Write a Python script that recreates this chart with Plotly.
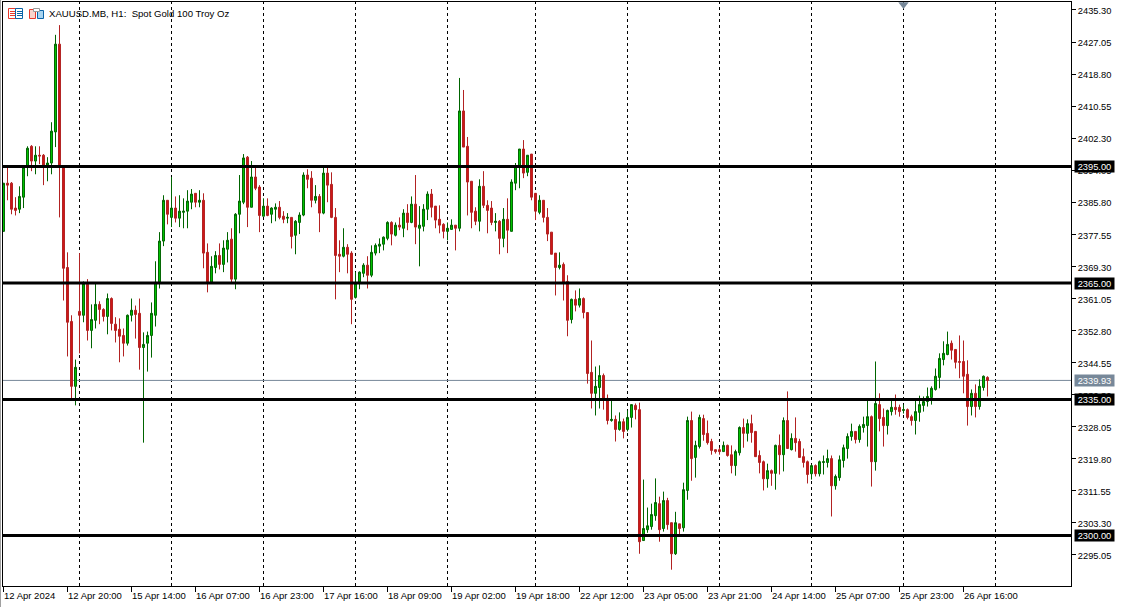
import plotly.graph_objects as go

highs = [
2390.7,2394.8,2391.0,2387.1,2389.9,2395.1,2400.2,2400.5,2400.2,2400.2,
2398.2,2397.4,2406.4,2428.9,2431.4,2395.1,2372.9,2356.7,2345.3,2372.7,
2365.4,2366.0,2359.5,2364.9,2360.3,2358.5,2362.3,2361.3,2356.2,2355.9,
2353.3,2356.9,2361.0,2359.2,2361.0,2352.3,2352.5,2360.0,2370.6,2378.1,
2387.6,2386.3,2392.3,2387.3,2387.6,2386.8,2388.9,2389.2,2388.1,2388.9,
2388.1,2375.2,2371.9,2373.2,2375.2,2376.0,2378.1,2379.1,2383.0,2392.8,
2398.2,2397.7,2396.4,2394.8,2390.2,2386.8,2386.8,2384.5,2385.5,2386.1,
2383.5,2383.0,2381.9,2381.2,2383.2,2393.5,2394.3,2393.8,2390.2,2387.9,
2394.8,2394.8,2393.5,2384.3,2376.0,2379.1,2375.0,2373.2,2367.8,2368.0,
2370.1,2371.9,2374.7,2375.2,2376.5,2377.0,2380.9,2380.9,2380.6,2381.9,
2384.0,2385.3,2387.3,2392.8,2384.8,2385.3,2388.6,2389.2,2384.8,2385.0,
2380.4,2380.6,2381.4,2379.9,2417.8,2414.7,2402.6,2391.2,2384.5,2391.7,
2393.8,2386.3,2386.1,2383.0,2381.2,2384.3,2386.8,2391.7,2395.9,2399.5,
2401.8,2397.9,2398.2,2388.1,2387.6,2386.3,2384.3,2378.1,2372.7,2372.9,
2370.3,2367.0,2361.0,2363.1,2363.6,2361.3,2357.4,2350.2,2343.5,2343.8,
2341.7,2336.3,2334.8,2330.9,2331.7,2330.1,2332.2,2333.7,2334.0,2334.2,
2314.4,2307.2,2308.2,2314.7,2310.0,2311.3,2309.7,2303.3,2306.1,2303.0,
2313.6,2330.6,2331.9,2324.4,2331.1,2331.1,2329.6,2324.9,2322.1,2322.6,
2324.2,2323.4,2323.2,2322.1,2328.1,2330.1,2329.9,2331.1,2326.8,2321.9,
2319.3,2318.5,2317.0,2323.4,2326.0,2330.4,2337.1,2326.3,2330.4,2324.9,
2322.4,2319.3,2318.3,2318.3,2319.3,2320.6,2322.1,2320.6,2315.7,2320.6,
2323.4,2326.3,2328.8,2326.8,2328.6,2330.6,2334.8,2330.9,2344.8,2336.6,
2332.7,2332.4,2334.8,2336.3,2333.7,2333.7,2332.7,2331.1,2334.8,2336.0,
2335.8,2338.1,2338.4,2343.0,2346.9,2350.0,2352.5,2350.2,2347.9,2351.5,
2350.2,2345.1,2337.6,2338.9,2340.2,2341.2,2341.0]

body_tops = [
2390.7,2390.7,2390.7,2384.3,2387.3,2394.8,2399.7,2400.2,2397.9,2397.9,
2397.9,2395.9,2404.1,2426.5,2426.5,2394.8,2369.0,2355.1,2343.3,2357.7,
2364.9,2364.7,2355.6,2359.5,2359.5,2358.2,2361.0,2361.0,2354.4,2353.1,
2351.5,2356.7,2358.0,2358.0,2357.2,2349.2,2351.5,2357.2,2365.2,2375.8,
2386.3,2386.3,2384.3,2384.3,2383.5,2383.5,2386.1,2387.9,2388.1,2386.3,
2386.3,2372.9,2369.3,2372.1,2372.1,2374.0,2376.0,2376.3,2382.7,2386.1,
2397.2,2397.4,2392.3,2392.3,2389.7,2384.8,2384.8,2384.3,2384.5,2384.5,
2382.2,2381.9,2381.9,2380.9,2382.5,2392.8,2392.8,2392.0,2387.3,2387.3,
2393.3,2393.3,2390.4,2381.9,2372.4,2374.2,2374.2,2372.7,2364.9,2367.8,
2369.6,2369.6,2372.9,2374.7,2375.0,2376.8,2380.6,2380.6,2379.9,2379.9,
2383.0,2383.0,2385.3,2385.3,2379.9,2384.0,2387.9,2387.9,2384.8,2381.4,
2380.1,2379.1,2379.9,2379.9,2409.3,2409.3,2400.2,2391.2,2383.5,2389.9,
2389.9,2385.0,2384.3,2380.9,2380.9,2381.4,2381.4,2391.0,2395.1,2399.5,
2399.5,2397.9,2398.2,2388.1,2386.3,2386.3,2381.9,2378.1,2372.7,2369.6,
2369.8,2365.4,2360.8,2360.8,2361.0,2361.0,2357.4,2342.0,2338.4,2341.2,
2341.2,2335.3,2329.9,2329.9,2329.3,2329.3,2330.4,2333.7,2333.5,2332.4,
2301.8,2302.5,2305.4,2308.5,2308.2,2309.0,2309.0,2303.3,2303.3,2303.0,
2311.8,2329.6,2329.6,2323.2,2330.4,2330.1,2326.3,2324.2,2322.1,2322.1,
2323.2,2323.2,2320.8,2321.6,2327.8,2327.8,2328.8,2328.8,2326.8,2320.6,
2319.0,2316.7,2316.7,2323.2,2323.2,2329.6,2329.6,2325.0,2325.0,2324.2,
2320.3,2319.0,2318.0,2318.0,2319.0,2319.0,2319.8,2319.8,2315.2,2319.5,
2322.6,2325.5,2326.8,2326.8,2328.1,2328.6,2330.6,2330.6,2334.0,2333.7,
2330.4,2332.2,2333.0,2333.0,2333.0,2332.4,2332.4,2330.6,2331.9,2333.7,
2334.5,2335.8,2337.9,2341.0,2345.6,2346.9,2349.2,2349.5,2347.9,2344.8,
2344.8,2341.5,2336.6,2336.6,2338.4,2341.0,2340.7]

body_bottoms = [
2378.3,2390.2,2384.0,2383.7,2384.0,2387.1,2395.1,2396.4,2396.4,2397.7,
2395.3,2395.3,2395.9,2403.9,2394.8,2368.8,2354.9,2338.4,2338.4,2356.7,
2356.7,2352.8,2352.8,2355.4,2358.2,2356.4,2356.4,2354.6,2352.8,2351.3,
2349.5,2349.5,2356.7,2356.9,2348.4,2348.4,2349.5,2351.5,2356.7,2365.2,
2375.8,2382.7,2381.9,2381.7,2381.7,2383.2,2383.5,2385.8,2385.8,2385.8,
2372.7,2365.2,2365.2,2369.0,2369.8,2369.8,2373.7,2366.0,2366.0,2382.7,
2385.8,2384.5,2384.5,2389.4,2382.4,2382.2,2382.4,2382.7,2384.0,2381.9,
2381.4,2381.7,2377.0,2377.3,2380.6,2382.5,2391.7,2386.3,2386.3,2383.0,
2383.0,2390.2,2381.9,2372.1,2371.9,2371.9,2372.4,2360.8,2361.3,2365.2,
2367.5,2367.0,2367.0,2372.7,2374.5,2375.0,2376.5,2377.6,2377.3,2379.4,
2379.1,2380.6,2380.6,2379.4,2379.1,2379.6,2384.0,2384.5,2381.2,2379.9,
2378.3,2378.3,2378.8,2379.1,2379.1,2400.0,2391.0,2383.2,2380.9,2380.9,
2385.0,2383.7,2380.6,2380.6,2376.5,2376.5,2378.6,2378.3,2390.7,2395.1,
2393.3,2393.5,2387.1,2383.5,2383.2,2381.9,2377.6,2372.4,2369.0,2369.0,
2364.9,2355.4,2355.6,2359.3,2359.3,2357.4,2341.7,2336.6,2336.6,2338.1,
2335.3,2329.6,2329.6,2327.3,2327.3,2326.8,2327.3,2330.4,2332.4,2298.4,
2298.7,2301.5,2302.3,2305.1,2301.5,2301.8,2302.8,2295.3,2295.3,2301.8,
2302.0,2311.6,2319.8,2320.1,2322.9,2326.0,2323.9,2321.9,2321.6,2321.6,
2321.6,2320.6,2318.0,2318.0,2321.3,2326.3,2326.3,2326.5,2320.3,2318.8,
2314.6,2314.6,2316.0,2316.0,2320.8,2320.8,2322.4,2322.1,2323.9,2320.1,
2318.8,2315.7,2315.9,2315.9,2315.9,2318.8,2318.8,2312.8,2312.8,2314.9,
2319.3,2322.4,2325.5,2324.7,2324.7,2327.8,2328.3,2319.0,2319.0,2330.1,
2328.3,2328.3,2331.9,2332.4,2331.9,2332.2,2330.4,2329.6,2329.6,2331.7,
2333.5,2334.5,2335.5,2337.6,2340.7,2345.3,2346.6,2347.7,2344.6,2344.6,
2341.0,2333.2,2333.2,2333.2,2333.2,2338.1,2339.9]

lows = [
2378.3,2386.3,2382.7,2382.4,2383.0,2384.3,2392.5,2393.8,2393.0,2395.6,
2390.2,2391.2,2393.0,2400.0,2381.9,2360.5,2346.1,2335.3,2333.5,2346.9,
2354.9,2350.2,2348.2,2353.3,2354.4,2355.1,2351.8,2352.8,2349.7,2344.6,
2346.1,2348.9,2355.1,2350.7,2342.7,2323.9,2342.2,2345.8,2353.8,2363.6,
2374.5,2380.1,2379.4,2380.6,2379.4,2379.1,2379.1,2384.0,2384.5,2384.5,
2368.8,2362.6,2364.9,2367.5,2368.5,2367.8,2370.3,2364.9,2363.4,2377.8,
2385.3,2379.4,2384.5,2388.9,2378.1,2382.2,2382.2,2380.4,2380.9,2381.4,
2380.4,2380.4,2373.9,2372.4,2377.6,2382.2,2389.4,2384.5,2385.5,2378.1,
2382.7,2385.8,2381.7,2360.8,2367.8,2371.6,2367.5,2354.4,2361.0,2363.4,
2366.5,2363.6,2366.5,2372.1,2372.7,2373.4,2376.0,2374.7,2377.0,2378.6,
2376.8,2378.6,2380.4,2375.0,2369.3,2378.3,2381.2,2381.9,2379.1,2377.8,
2376.5,2376.0,2378.8,2373.4,2378.3,2400.0,2382.4,2379.1,2379.9,2378.3,
2384.3,2377.8,2379.9,2378.3,2372.4,2374.2,2372.7,2378.3,2388.9,2389.4,
2392.0,2392.5,2386.3,2381.2,2382.7,2380.6,2375.8,2372.4,2361.8,2368.5,
2360.5,2351.3,2354.6,2357.7,2358.7,2355.9,2339.1,2332.7,2330.9,2332.7,
2332.4,2328.6,2329.3,2324.2,2327.0,2325.0,2326.8,2327.8,2329.9,2295.3,
2298.7,2300.7,2301.5,2303.8,2298.4,2301.0,2301.5,2291.2,2295.0,2300.2,
2301.0,2309.2,2314.1,2314.9,2322.4,2324.4,2323.4,2320.8,2321.1,2320.8,
2321.6,2320.3,2316.0,2315.4,2320.6,2322.6,2324.2,2323.9,2320.3,2316.0,
2311.6,2312.3,2312.8,2311.8,2315.7,2316.5,2322.4,2321.9,2321.6,2320.1,
2317.5,2313.4,2314.4,2315.2,2315.2,2315.7,2317.5,2304.9,2311.8,2314.1,
2317.5,2319.8,2324.4,2323.7,2323.9,2326.5,2322.9,2312.6,2316.7,2326.8,
2322.9,2326.0,2330.9,2331.1,2330.6,2331.4,2329.9,2328.3,2326.0,2329.3,
2331.9,2333.2,2333.7,2337.3,2337.9,2343.8,2346.4,2345.3,2343.0,2340.5,
2336.6,2328.3,2330.9,2330.4,2332.4,2337.3,2335.8]

directions = (
"GRRRGGGRGR" "RGGGRRRRGR" "GRGGRRGRRR" "RGGRRGGGGG" "GRGRGGGGRG"
"RRGGRGGRGG" "GRGRRGRGGR" "RGRGGGRRGR" "GRRRRGRRGG" "GRGGGGGRGR"
"GRGRGGGRRR" "RGGRGRRRRG" "RRRGRGRGGG" "RGRRGRRRRG" "RRGRGRRRGG"
"RRGRGRGGRR" "GGGGRGRRGR" "GGRGGRRRRR" "GRRGGRGRRR" "RGRGRGRGRR"
"RRGRGGGRGG" "GGGRGGGRGR" "RGGRRGRRGG" "GGGGGGGRRR" "RRGRGGR")

assert len(highs) == len(lows) == len(body_tops) == len(body_bottoms) == len(directions) == 247

opens = [b if d == "G" else t for t, b, d in zip(body_tops, body_bottoms, directions)]
closes = [t if d == "G" else b for t, b, d in zip(body_tops, body_bottoms, directions)]
bars = list(range(len(highs)))

x_tick_bars = [0, 16, 32, 48, 64, 80, 96, 112, 128, 144, 160, 176, 192, 208, 224, 240]
x_tick_labels = ["12 Apr 2024", "12 Apr 20:00", "15 Apr 14:00", "16 Apr 07:00",
                 "16 Apr 23:00", "17 Apr 16:00", "18 Apr 09:00", "19 Apr 02:00",
                 "19 Apr 18:00", "22 Apr 12:00", "23 Apr 05:00", "23 Apr 21:00",
                 "24 Apr 14:00", "25 Apr 07:00", "25 Apr 23:00", "26 Apr 16:00"]
y_ticks = [2435.30, 2427.05, 2418.80, 2410.55, 2402.30, 2394.05, 2385.80, 2377.55, 2369.30,
           2361.05, 2352.80, 2344.55, 2336.30, 2328.05, 2319.80, 2311.55, 2303.30, 2295.05]
level_lines = [2395.00, 2365.00, 2335.00, 2300.00]
bid_price = 2339.93
day_separators = [19, 42, 65, 88, 111, 133, 156, 179, 202, 225, 248]
title_text = "XAUUSD.MB, H1:  Spot Gold 100 Troy Oz"

W, H = 1124, 607
L, R, T, B = 3, 1071, 2, 586
FONT = "Liberation Sans"


def px(x):
    return (x - L) / (R - L)


def py(y):
    return 1 - (y - T) / (B - T)


fig = go.Figure()
fig.add_trace(go.Candlestick(
    x=bars, open=opens, high=highs, low=lows, close=closes,
    whiskerwidth=0,
    increasing=dict(line=dict(color="#006400", width=1), fillcolor="#00C800"),
    decreasing=dict(line=dict(color="#B22222", width=1), fillcolor="#D01818"),
    hoverinfo="skip", showlegend=False,
))
# small marker at the top of the chart
fig.add_trace(go.Scatter(
    x=[225], y=[2436.7], mode="markers",
    marker=dict(symbol="triangle-down", size=9, color="#778899"),
    hoverinfo="skip", showlegend=False,
))

shapes = []
for s in day_separators:
    shapes.append(dict(type="line", xref="x", yref="paper", x0=s, x1=s, y0=0, y1=1,
                       layer="below", line=dict(color="black", width=1, dash="3px,3px")))
shapes.append(dict(type="line", xref="paper", yref="y", x0=0, x1=1, y0=bid_price, y1=bid_price,
                   layer="below", line=dict(color="#778899", width=1)))
for v in level_lines:
    shapes.append(dict(type="line", xref="paper", yref="y", x0=0, x1=1, y0=v, y1=v,
                       layer="above", line=dict(color="black", width=3)))


def rect(x0, y0, x1, y1, line, fill="rgba(0,0,0,0)"):
    shapes.append(dict(type="rect", xref="paper", yref="paper", x0=px(x0), x1=px(x1),
                       y0=py(y0), y1=py(y1), layer="above",
                       line=dict(color=line, width=1), fillcolor=fill))


def seg(x0, y0, x1, y1, color):
    shapes.append(dict(type="line", xref="paper", yref="paper", x0=px(x0), x1=px(x1),
                       y0=py(y0), y1=py(y1), layer="above", line=dict(color=color, width=1)))


# toolbar icons beside the title
rect(8.5, 8.5, 15.5, 18.5, "#E8392B")
rect(15.5, 8.5, 22.5, 18.5, "#0A64A8")
for yy in (11.5, 13.5, 15.5):
    seg(10, yy, 15, yy, "#E8392B")
    seg(17, yy, 22, yy, "#0A64A8")
rect(29.5, 9.5, 35.5, 18.5, "#E8392B", "#FAD4CC")
rect(37.5, 10.5, 43.5, 18.5, "#0A64A8", "#A8D4F0")
rect(33.5, 8.5, 39.5, 11.5, "#999999", "#FFFFFF")
# outer window edge
shapes.append(dict(type="line", xref="paper", yref="paper", x0=px(0.5), x1=px(0.5), y0=py(0), y1=py(607),
                   layer="above", line=dict(color="#A0A0A0", width=1)))

annotations = [dict(xref="paper", yref="paper", x=px(47), y=py(13.5), xanchor="left", yanchor="middle",
                    text=title_text, showarrow=False, font=dict(family=FONT, size=9.6, color="black"))]
for b, t in zip(x_tick_bars, x_tick_labels):
    annotations.append(dict(xref="x", yref="paper", x=b, y=py(595.5), xanchor="left", yanchor="middle",
                            text=t, showarrow=False, xshift=-2,
                            font=dict(family=FONT, size=9.5, color="black")))
for v in level_lines:
    annotations.append(dict(xref="paper", yref="y", x=px(1074), y=v, xanchor="left", yanchor="middle",
                            text=f"{v:.2f}", showarrow=False, bgcolor="black", width=39, height=11,
                            borderpad=0, align="center", font=dict(family=FONT, size=9.3, color="white")))
annotations.append(dict(xref="paper", yref="y", x=px(1074), y=bid_price, xanchor="left", yanchor="middle",
                        text=f"{bid_price:.2f}", showarrow=False, bgcolor="#778899", width=39, height=11,
                        borderpad=0, align="center", font=dict(family=FONT, size=9.3, color="white")))

y_top = 2437.35
y_bottom = 2287.0
fig.update_layout(
    width=W, height=H, autosize=False,
    margin=dict(l=L, r=W - R, t=T, b=H - B, pad=0),
    paper_bgcolor="white", plot_bgcolor="white",
    showlegend=False, shapes=shapes, annotations=annotations,
    xaxis=dict(range=[-0.125, 266.875], rangeslider=dict(visible=False), showgrid=False, zeroline=False,
               tickmode="array", tickvals=x_tick_bars, ticktext=[""] * len(x_tick_bars),
               ticks="outside", ticklen=5, tickcolor="black", tickwidth=1,
               showline=True, linecolor="black", linewidth=1, mirror=True),
    yaxis=dict(range=[y_bottom, y_top], side="right", showgrid=False, zeroline=False,
               tickmode="array", tickvals=y_ticks, ticktext=[f"{v:.2f}" for v in y_ticks],
               ticks="outside", ticklen=4, tickcolor="black", tickwidth=1,
               ticklabelshift=1,
               tickfont=dict(family=FONT, size=9.3, color="black"),
               showline=True, linecolor="black", linewidth=1, mirror=True),
)

fig.write_html("out.html", post_script="document.body.style.margin='0';document.body.style.overflow='hidden';",
               config={"displayModeBar": False})
